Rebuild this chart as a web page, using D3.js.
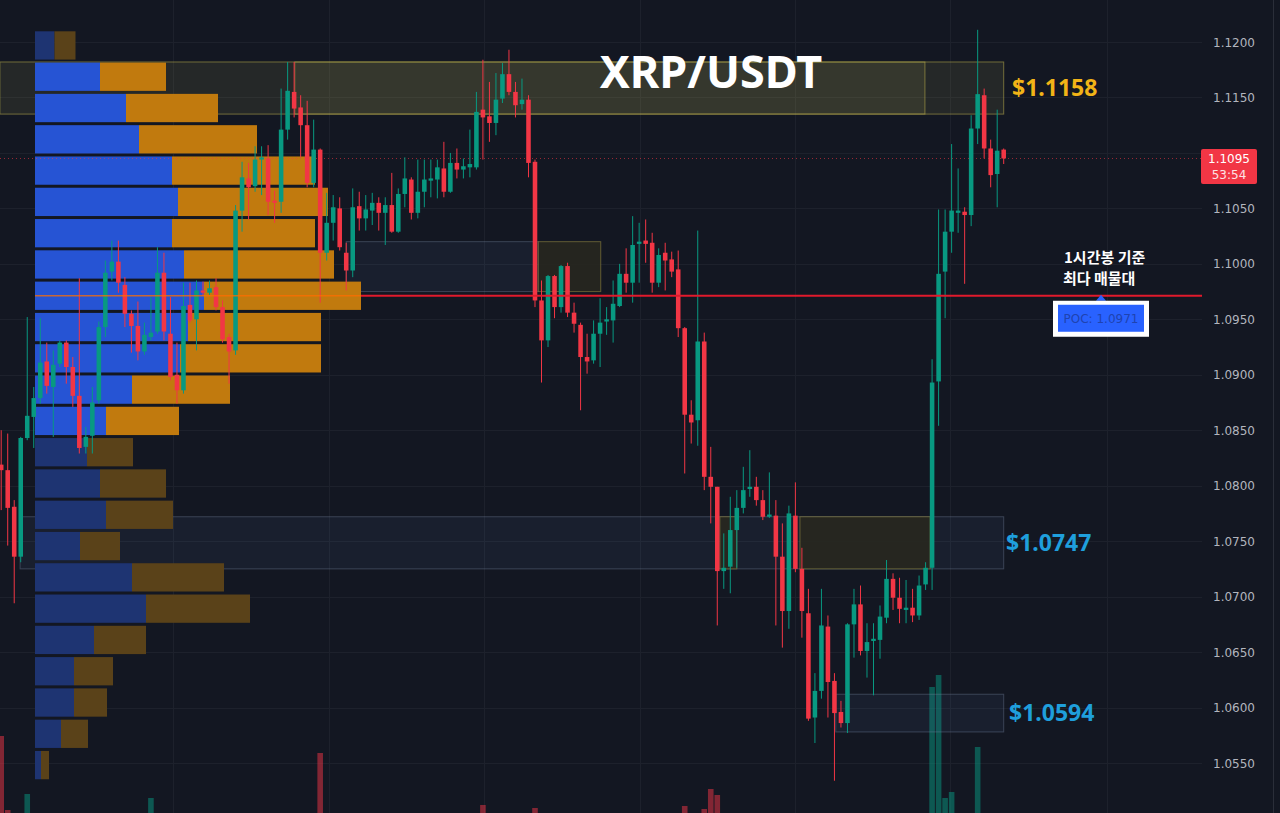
<!DOCTYPE html>
<html>
<head>
<meta charset="utf-8">
<script src="https://cdn.jsdelivr.net/npm/d3@7"></script>
<style>
  html, body { margin: 0; padding: 0; background: #131722; }
  svg { display: block; }
</style>
</head>
<body>
<svg id="chart" width="1280" height="813"></svg>
<script>
// ==========================================================
// DATA — XRP/USDT 1h candles
// ==========================================================
const opens = [1.0819,1.0814,1.0781,1.0736,1.0843,1.0862,1.0879,1.0912,1.0889,1.0910,
  1.0929,1.0907,1.0881,1.0835,1.0845,1.0877,1.0943,1.0993,1.1002,1.0981,
  1.0955,1.0944,1.0921,1.0934,1.0939,1.0992,1.0937,1.0900,1.0886,1.0963,
  1.0950,1.0976,1.0974,1.0979,1.0961,1.0934,1.0922,1.1048,1.1077,1.1070,
  1.1094,1.1095,1.1057,1.1056,1.1121,1.1155,1.1141,1.1125,1.1073,1.1103,
  1.1010,1.1037,1.1050,1.1010,1.0994,1.1052,1.1041,1.1048,1.1055,1.1046,
  1.1053,1.1029,1.1063,1.1076,1.1046,1.1065,1.1075,1.1076,1.1086,1.1065,
  1.1091,1.1085,1.1087,1.1087,1.1139,1.1133,1.1127,1.1149,1.1171,1.1155,
  1.1144,1.1148,1.1092,1.0967,1.0931,1.0989,1.0961,1.0998,1.0956,1.0945,
  1.0916,1.0913,1.0937,1.0948,1.0949,1.0962,1.0991,1.0983,1.1018,1.1021,
  1.1019,1.0983,1.1010,1.1004,1.0995,1.0942,1.0864,1.0859,1.0930,1.0808,
  1.0799,1.0723,1.0727,1.0760,1.0780,1.0797,1.0799,1.0787,1.0772,1.0773,
  1.0736,1.0687,1.0773,1.0725,1.0685,1.0591,1.0615,1.0673,1.0624,1.0596,
  1.0586,1.0675,1.0693,1.0651,1.0660,1.0661,1.0681,1.0716,1.0699,1.0688,
  1.0690,1.0683,1.0711,1.0726,1.0894,1.0993,1.1029,1.1046,1.1047,1.1044,
  1.1122,1.1152,1.1104,1.1081,1.1103];
const highs = [1.0850,1.0847,1.0787,1.0844,1.0952,1.0889,1.0951,1.0929,1.0922,1.0931,
  1.0931,1.0916,1.0987,1.0853,1.0889,1.0948,1.1003,1.1021,1.1021,1.0988,
  1.0958,1.0966,1.0947,1.0970,1.1015,1.1010,1.0970,1.0929,1.0983,1.0983,
  1.0985,1.0984,1.0985,1.0987,1.0967,1.0937,1.1053,1.1092,1.1091,1.1106,
  1.1106,1.1107,1.1066,1.1158,1.1182,1.1182,1.1152,1.1147,1.1130,1.1104,
  1.1064,1.1062,1.1060,1.1019,1.1068,1.1065,1.1062,1.1064,1.1060,1.1060,
  1.1082,1.1068,1.1096,1.1078,1.1094,1.1094,1.1094,1.1094,1.1110,1.1100,
  1.1104,1.1095,1.1121,1.1155,1.1184,1.1164,1.1172,1.1181,1.1193,1.1164,
  1.1167,1.1152,1.1094,1.0985,1.0990,1.0990,1.0999,1.1001,1.0965,1.0947,
  1.0937,1.0949,1.0969,1.0961,1.0985,1.1000,1.1014,1.1043,1.1037,1.1040,
  1.1028,1.1014,1.1019,1.1011,1.1012,1.0943,1.0877,1.1030,1.0938,1.0835,
  1.0799,1.0757,1.0790,1.0796,1.0817,1.0832,1.0808,1.0796,1.0812,1.0787,
  1.0766,1.0782,1.0803,1.0744,1.0707,1.0631,1.0707,1.0683,1.0631,1.0606,
  1.0676,1.0707,1.0710,1.0676,1.0676,1.0692,1.0733,1.0721,1.0717,1.0715,
  1.0707,1.0719,1.0731,1.0914,1.1049,1.1049,1.1108,1.1086,1.1051,1.1134,
  1.1211,1.1158,1.1112,1.1139,1.1104];
const lows = [1.0778,1.0746,1.0694,1.0731,1.0841,1.0834,1.0874,1.0883,1.0844,1.0907,
  1.0892,1.0871,1.0829,1.0829,1.0829,1.0874,1.0934,1.0985,1.0974,1.0943,
  1.0920,1.0913,1.0918,1.0931,1.0937,1.0931,1.0895,1.0874,1.0883,1.0947,
  1.0922,1.0971,1.0972,1.0958,1.0929,1.0892,1.0918,1.1029,1.1040,1.1065,
  1.1062,1.1044,1.1037,1.1046,1.1112,1.1132,1.1096,1.1069,1.1069,1.0965,
  1.1003,1.1021,1.1012,1.0976,1.0988,1.1030,1.1030,1.1035,1.1030,1.1017,
  1.1028,1.1028,1.1051,1.1040,1.1041,1.1051,1.1060,1.1059,1.1060,1.1064,
  1.1077,1.1077,1.1078,1.1085,1.1094,1.1110,1.1116,1.1145,1.1152,1.1132,
  1.1139,1.1078,1.0961,1.0893,1.0925,1.0951,1.0956,1.0952,1.0938,1.0868,
  1.0901,1.0910,1.0907,1.0936,1.0929,1.0961,1.0974,1.0965,1.0983,1.1001,
  1.0974,1.0979,1.0976,1.0988,1.0934,1.0811,1.0838,1.0836,1.0796,1.0766,
  1.0674,1.0707,1.0703,1.0726,1.0775,1.0790,1.0782,1.0769,1.0771,1.0674,
  1.0654,1.0671,1.0722,1.0663,1.0588,1.0568,1.0608,1.0591,1.0534,1.0582,
  1.0577,1.0645,1.0647,1.0627,1.0611,1.0644,1.0676,1.0688,1.0676,1.0676,
  1.0677,1.0679,1.0706,1.0706,1.0854,1.0951,1.1010,1.1028,1.0982,1.1034,
  1.1108,1.1095,1.1069,1.1051,1.1090];
const closes = [1.0814,1.0780,1.0736,1.0843,1.0863,1.0879,1.0911,1.0890,1.0909,1.0929,
  1.0907,1.0881,1.0834,1.0844,1.0875,1.0943,1.0992,1.1002,1.0983,1.0955,
  1.0944,1.0921,1.0936,1.0938,1.0992,1.0939,1.0898,1.0886,1.0962,1.0949,
  1.0976,1.0974,1.0978,1.0961,1.0932,1.0921,1.1048,1.1078,1.1069,1.1094,
  1.1096,1.1056,1.1055,1.1121,1.1156,1.1140,1.1125,1.1073,1.1103,1.1010,
  1.1037,1.1051,1.1015,1.0994,1.1051,1.1041,1.1049,1.1055,1.1046,1.1053,
  1.1029,1.1063,1.1077,1.1046,1.1065,1.1076,1.1077,1.1087,1.1065,1.1091,
  1.1085,1.1088,1.1090,1.1137,1.1132,1.1127,1.1148,1.1171,1.1155,1.1143,
  1.1148,1.1091,1.0967,1.0931,1.0989,1.0961,1.0998,1.0956,1.0946,1.0916,
  1.0912,1.0937,1.0947,1.0950,1.0964,1.0991,1.0983,1.1017,1.1020,1.1018,
  1.0983,1.1008,1.1003,1.0993,1.0942,1.0864,1.0857,1.0930,1.0808,1.0799,
  1.0723,1.0726,1.0760,1.0780,1.0796,1.0799,1.0787,1.0772,1.0774,1.0736,
  1.0687,1.0775,1.0725,1.0687,1.0590,1.0615,1.0674,1.0623,1.0595,1.0586,
  1.0675,1.0693,1.0651,1.0659,1.0662,1.0682,1.0716,1.0699,1.0689,1.0690,
  1.0683,1.0710,1.0726,1.0893,1.0991,1.1029,1.1048,1.1048,1.1044,1.1122,
  1.1153,1.1104,1.1080,1.1102,1.1095];

// volume bars that reach into the visible window (candle index, volume in M)
const volIdx = [0, 1, 4, 23, 49, 74, 82, 105, 108, 109, 110, 143, 144, 145, 146, 150];
const volAmt = [47, 10, 18, 16, 38.5, 12.5, 11, 12, 10.5, 20.5, 17.5, 71.5, 77.5, 16, 19, 41.5];

// visible-range volume profile, 24 rows from top to bottom (K)
const vpBuy  = [19.5, 65, 91, 104, 137, 143, 137, 149, 169, 153, 145, 97, 71, 52, 65, 71, 45, 97, 111, 59, 39, 39, 26, 6];
const vpSell = [21, 66, 92, 118, 143, 150, 143, 150, 157, 133, 141, 98, 73, 46, 66, 67, 40, 92, 104, 52, 39, 33, 27, 8];
const vaRows = [1, 12];

// price axis
const priceTicks = [1.1200, 1.1150, 1.1100, 1.1050, 1.1000, 1.0950, 1.0900, 1.0850,
                    1.0800, 1.0750, 1.0700, 1.0650, 1.0600, 1.0550];
// day separators (in candle index units)
const gridIdx = [26.4, 50.3, 74.2, 98.1, 121.9, 145.8, 169.8];

// drawn zones: candle index range + price range
const zoneFrom = [-0.2, 45.1, 53, 82.5, 2.9, 110.4, 122.7, 128.2];
const zoneTo   = [141.9, 154, 82.5, 92.1, 154, 113, 142.7, 154];
const zoneLo   = [1.1135, 1.1135, 1.0975, 1.0975, 1.0725, 1.0725, 1.0725, 1.0578];
const zoneHi   = [1.1182, 1.1182, 1.1020, 1.1020, 1.0772, 1.0772, 1.0772, 1.0612];
const zoneKind = ["y", "y", "b", "yd", "b", "yd", "yd", "b"];

// level labels
const levelPrices = [1.1158, 1.0747, 1.0594];
const levelKind   = ["y", "b", "b"];

const countdown = "53:54";

// ==========================================================
// DRAWING
// ==========================================================
const W = 1280, H = 813;
const plotRight = 1202;
const UP = "#089981", DOWN = "#f23645";

const svg = d3.select("#chart");
svg.append("rect").attr("width", W).attr("height", H).attr("fill", "#131722");

const x = d3.scaleLinear().domain([0, 154]).range([1.2, 1003.7]);
const step = x(1) - x(0);
const y = d3.scaleLinear().domain([1.0550, 1.1200]).range([763, 42]);

const candles = d3.range(opens.length).map(i => ({
    i, o: opens[i], h: highs[i], l: lows[i], c: closes[i]
}));
const isUp = d => d.c >= d.o;
const last = candles[candles.length - 1];

// grid
const grid = svg.append("g");
grid.selectAll("line.h").data(priceTicks).join("line")
    .attr("x1", 0).attr("x2", plotRight)
    .attr("y1", d => Math.round(y(d)) + 0.5).attr("y2", d => Math.round(y(d)) + 0.5)
    .attr("stroke", "#1d212c");
grid.selectAll("line.v").data(gridIdx).join("line")
    .attr("x1", d => Math.round(x(d)) + 0.5).attr("x2", d => Math.round(x(d)) + 0.5)
    .attr("y1", 0).attr("y2", H)
    .attr("stroke", "#1d212c");

// volume
const yv = d3.scaleLinear().domain([0, 100]).range([830, 630]);
svg.append("g").selectAll("rect").data(volIdx).join("rect")
    .attr("x", d => x(d) - step * 0.43)
    .attr("width", step * 0.86)
    .attr("y", (d, k) => yv(volAmt[k]))
    .attr("height", (d, k) => yv(0) - yv(volAmt[k]))
    .attr("fill", d => isUp(candles[d]) ? UP : DOWN)
    .attr("opacity", 0.5);

// zones
const zoneStyle = {
    y:  { fill: "rgb(190,180,90)", fo: 0.11, stroke: "rgba(200,185,80,0.5)" },
    yd: { fill: "#27271f", fo: 0.92, stroke: "rgba(200,185,80,0.4)" },
    b:  { fill: "rgb(90,120,180)", fo: 0.09, stroke: "rgba(120,135,160,0.38)" }
};
svg.append("g").selectAll("rect").data(zoneFrom).join("rect")
    .attr("x", (d, k) => x(zoneFrom[k]))
    .attr("width", (d, k) => x(zoneTo[k]) - x(zoneFrom[k]))
    .attr("y", (d, k) => y(zoneHi[k]))
    .attr("height", (d, k) => y(zoneLo[k]) - y(zoneHi[k]))
    .attr("fill", (d, k) => zoneStyle[zoneKind[k]].fill)
    .attr("fill-opacity", (d, k) => zoneStyle[zoneKind[k]].fo)
    .attr("stroke", (d, k) => zoneStyle[zoneKind[k]].stroke)
    .attr("stroke-width", 1);

// volume profile
const pHi = d3.max(highs), pLo = d3.min(lows);
const rowH = (pHi - pLo) / vpBuy.length;
const totals = vpBuy.map((b, k) => b + vpSell[k]);
const maxTot = d3.max(totals);
const vx = d3.scaleLinear().domain([0, maxTot]).range([35, 361]);
const pocRow = totals.indexOf(maxTot);
const poc = pHi - (pocRow + 0.5) * rowH;

const prof = svg.append("g");
const inVA = k => k >= vaRows[0] && k <= vaRows[1];
prof.selectAll("rect.buy").data(vpBuy).join("rect")
    .attr("x", vx(0))
    .attr("width", d => vx(d) - vx(0))
    .attr("y", (d, k) => y(pHi - k * rowH) + 1.5)
    .attr("height", (d, k) => y(pHi - (k + 1) * rowH) - y(pHi - k * rowH) - 3)
    .attr("fill", (d, k) => inVA(k) ? "#2654d4" : "#1e3472");
prof.selectAll("rect.sell").data(vpSell).join("rect")
    .attr("x", (d, k) => vx(vpBuy[k]))
    .attr("width", (d, k) => vx(vpBuy[k] + d) - vx(vpBuy[k]))
    .attr("y", (d, k) => y(pHi - k * rowH) + 1.5)
    .attr("height", (d, k) => y(pHi - (k + 1) * rowH) - y(pHi - k * rowH) - 3)
    .attr("fill", (d, k) => inVA(k) ? "#c17a0e" : "#5a4219");

// current price dotted line
svg.append("line")
    .attr("x1", 0).attr("x2", plotRight)
    .attr("y1", y(last.c)).attr("y2", y(last.c))
    .attr("stroke", DOWN).attr("stroke-opacity", 0.6)
    .attr("stroke-dasharray", "1,3");

// candles
const cg = svg.append("g");
cg.selectAll("line").data(candles).join("line")
    .attr("x1", d => x(d.i)).attr("x2", d => x(d.i))
    .attr("y1", d => y(d.h)).attr("y2", d => y(d.l))
    .attr("stroke", d => isUp(d) ? UP : DOWN)
    .attr("stroke-width", 1);
cg.selectAll("rect").data(candles).join("rect")
    .attr("x", d => x(d.i) - step * 0.35)
    .attr("width", step * 0.7)
    .attr("y", d => y(Math.max(d.o, d.c)))
    .attr("height", d => Math.max(1, Math.abs(y(d.o) - y(d.c))))
    .attr("fill", d => isUp(d) ? UP : DOWN);

// POC line
svg.append("line")
    .attr("x1", vx(0)).attr("x2", vx(maxTot))
    .attr("y1", y(poc)).attr("y2", y(poc))
    .attr("stroke", "#ff6d00").attr("stroke-opacity", 0.75).attr("stroke-width", 1.5);
svg.append("line")
    .attr("x1", vx(maxTot)).attr("x2", plotRight)
    .attr("y1", y(poc)).attr("y2", y(poc))
    .attr("stroke", "#e11a2c").attr("stroke-width", 2);

// level labels
svg.append("g").selectAll("text").data(levelPrices).join("text")
    .attr("x", (d, k) => k === 0 ? 1012 : (k === 1 ? 1006 : 1009))
    .attr("y", d => y(d) + 7)
    .attr("fill", (d, k) => levelKind[k] === "y" ? "#f2b417" : "#1f9fdc")
    .attr("font-family", "'Noto Sans', sans-serif")
    .attr("font-weight", 700)
    .attr("font-size", 23)
    .text(d => "$" + d.toFixed(4));

// title
svg.append("text")
    .attr("x", 711).attr("y", 88)
    .attr("text-anchor", "middle")
    .attr("fill", "#ffffff")
    .attr("font-family", "'Noto Sans', sans-serif")
    .attr("font-weight", 700)
    .attr("font-size", 45)
    .text("XRP/USDT");

// POC annotation
const note = svg.append("g")
    .attr("font-family", "'Noto Sans CJK KR', sans-serif")
    .attr("font-weight", 700)
    .attr("font-size", 15)
    .attr("fill", "#ffffff");
note.append("text").attr("x", 1064).attr("y", y(poc) - 33).text("1시간봉 기준");
note.append("text").attr("x", 1063).attr("y", y(poc) - 12).text("최다 매물대");

svg.append("path")
    .attr("d", `M1101,${y(poc) - 1}L1096,${y(poc) + 5}L1106,${y(poc) + 5}Z`)
    .attr("fill", "#2962ff");
svg.append("rect")
    .attr("x", 1053).attr("y", y(poc) + 5).attr("width", 96).attr("height", 36)
    .attr("fill", "#ffffff");
svg.append("rect")
    .attr("x", 1058).attr("y", y(poc) + 9).attr("width", 86).attr("height", 27)
    .attr("fill", "#2962ff");
svg.append("text")
    .attr("x", 1101).attr("y", y(poc) + 27)
    .attr("text-anchor", "middle")
    .attr("fill", "#1f43b0")
    .attr("font-family", "'DejaVu Sans', sans-serif")
    .attr("font-size", 12)
    .text("POC: " + poc.toFixed(4));

// price axis labels (the one under the last-price badge is hidden)
svg.append("g").selectAll("text")
    .data(priceTicks.filter(d => Math.abs(y(d) - y(last.c)) > 20))
    .join("text")
    .attr("x", 1213)
    .attr("y", d => y(d) + 4.5)
    .attr("fill", "#b2b5be")
    .attr("font-family", "'DejaVu Sans', sans-serif")
    .attr("font-size", 12)
    .text(d => d.toFixed(4));

// last price badge
const pl = svg.append("g");
pl.append("rect")
    .attr("x", 1201).attr("y", y(last.c) - 9.5).attr("width", 56).attr("height", 35)
    .attr("rx", 2).attr("fill", DOWN);
pl.append("text")
    .attr("x", 1229).attr("y", y(last.c) + 4.5).attr("text-anchor", "middle")
    .attr("fill", "#ffffff").attr("font-family", "'DejaVu Sans', sans-serif").attr("font-size", 12)
    .text(last.c.toFixed(4));
pl.append("text")
    .attr("x", 1229).attr("y", y(last.c) + 20.5).attr("text-anchor", "middle")
    .attr("fill", "#fde3e5").attr("font-family", "'DejaVu Sans', sans-serif").attr("font-size", 12)
    .text(countdown);

// right border
svg.append("line")
    .attr("x1", 1273.5).attr("x2", 1273.5).attr("y1", 0).attr("y2", H)
    .attr("stroke", "#2a2e39");
</script>
</body>
</html>
